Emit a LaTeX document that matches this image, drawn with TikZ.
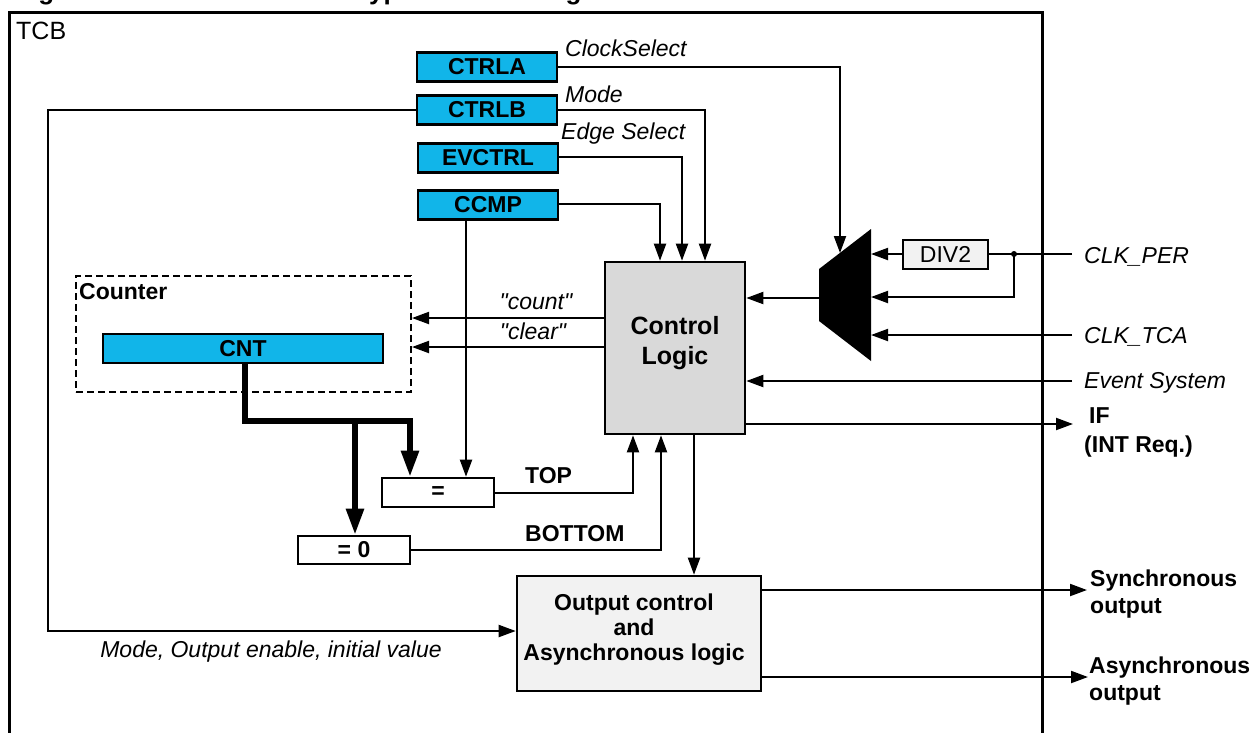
\documentclass[tikz,border=0pt]{standalone}
\usepackage{fontspec}
\setmainfont{Liberation Sans}
\usetikzlibrary{arrows.meta}
\definecolor{regcyan}{RGB}{17,181,233}
\definecolor{ctrlgray}{RGB}{217,217,217}
\definecolor{lightbox}{RGB}{242,242,242}
\newcommand\strq{\XeTeXglyph\XeTeXcharglyph"22\relax}
\begin{document}
\begin{tikzpicture}[x=1pt,y=-1pt,
  reg/.style={draw, line width=2.6pt, fill=regcyan, font=\fontsize{23}{27}\selectfont\bfseries,
              minimum width=140pt, minimum height=29pt, inner sep=0pt},
  cmpbox/.style={draw, line width=2.6pt, fill=white, font=\fontsize{23}{27}\selectfont\bfseries,
              minimum width=112pt, minimum height=29pt, inner sep=0pt},
  lbl/.style={font=\fontsize{23}{27}\selectfont, inner sep=0pt},
  ilbl/.style={font=\fontsize{23}{27}\selectfont\itshape, inner sep=0pt},
  blbl/.style={font=\fontsize{23}{27}\selectfont\bfseries, inner sep=0pt},
  wire/.style={line width=2pt},
  arr/.style={line width=2pt, -{Triangle[length=17pt,width=12pt]}},
  thk/.style={line width=5.5pt, -{Triangle[length=26pt,width=17pt]}}
]
\useasboundingbox (0,0) rectangle (1257,732);
\clip (0,0) rectangle (1257,732);
\fill[white] (0,0) rectangle (1257,732);

% title (cut off at the top)
\node[anchor=base west, font=\fontsize{26}{30}\selectfont\bfseries, inner sep=0pt] (title) at (15,-1)
  {Figure 21-1. Timer/Counter Type B Block Diagram};

% TCB frame
\draw[line width=3pt] (9,12) rectangle (1042,770);
\node[lbl, anchor=west, font=\fontsize{25}{29}\selectfont] (tcb) at (16,31) {TCB};

% registers
\node[reg] (ctrla) at (487,67) {CTRLA};
\node[reg] (ctrlb) at (487,110) {CTRLB};
\node[reg] (evctrl) at (488,158) {EVCTRL};
\node[reg] (ccmp) at (488,205) {CCMP};

\node[ilbl, anchor=west] (lcs) at (565,48) {ClockSelect};
\node[ilbl, anchor=west] (lmode) at (565,94) {Mode};
\node[ilbl, anchor=west] (ledge) at (561,134) {Edge Select};

% counter
\node[draw, line width=2pt, dash pattern=on 7pt off 4pt, minimum width=335pt, minimum height=116pt,
      inner sep=0pt] (counter) at (243.5,334) {};
\node[blbl, anchor=west] (counterlbl) at (79,292) {Counter};
\node[reg, minimum width=280pt] (cnt) at (243,348.5) {CNT};

% comparators
\node[cmpbox] (eqtop) at (438,492.5) {=};
\node[cmpbox, minimum height=28pt] (eqzero) at (354,550) {= 0};

% control logic
\node[draw, line width=2.6pt, fill=ctrlgray, minimum width=140pt, minimum height=172pt, inner sep=0pt] (ctrl) at (675,348) {};
\node[align=center, inner sep=0pt, font=\fontsize{25}{30}\selectfont\bfseries] (ctrltext) at (675,343) {Control\\Logic};

% output block
\node[draw, line width=2.6pt, fill=lightbox, minimum width=244pt, minimum height=115pt, inner sep=0pt] (outbox) at (639,633.5) {};
\node[align=center, inner sep=0pt, font=\fontsize{23}{25}\selectfont\bfseries] (outtext) at (634,630)
      {Output control\\and\\Asynchronous logic};

% mux and divider
\fill (819,269) -- (871,229) -- (871,361) -- (819,321) -- cycle;
\coordinate (muxsel) at (840,253);
\coordinate (muxout) at (819,298);
\coordinate (muxin1) at (871,254);
\coordinate (muxin2) at (871,297);
\coordinate (muxin3) at (871,335);
\node[draw, line width=2.4pt, fill=lightbox, minimum width=85pt, minimum height=29pt, inner sep=0pt,
      font=\fontsize{23}{27}\selectfont] (div2) at (945.5,254.5) {DIV2};

% register connections
\draw[arr] (ctrla.east) -| (muxsel);
\draw[arr] (ctrlb.east) -| ([xshift=30pt]ctrl.north);
\draw[arr] (evctrl.east |- 0,157) -| ([xshift=7pt]ctrl.north);
\draw[arr] (ccmp.east |- 0,204) -| ([xshift=-15pt]ctrl.north);
\draw[arr] ([xshift=-22pt]ccmp.south) -- ([xshift=28pt]eqtop.north);

% count / clear
\draw[arr] (ctrl.west |- 0,318) -- (counter.east |- 0,318);
\draw[arr] (ctrl.west |- 0,347) -- (counter.east |- 0,347);
\node[ilbl] (lcount) at (536,302) {\strq count\strq};
\node[ilbl] (lclear) at (533,331) {\strq clear\strq};

% counter value to comparators
\coordinate (cntturn) at (410,421);
\coordinate (br) at (355,421);
\draw[thk] ([xshift=2pt]cnt.south) |- (cntturn) -- (eqtop.north -| cntturn);
\draw[thk] (br) -- (eqzero.north -| br);

% TOP / BOTTOM
\draw[arr] (eqtop.east) -| (ctrl.south -| 633,0);
\draw[arr] (eqzero.east) -| (ctrl.south -| 661,0);
\node[blbl, anchor=west] (ltop) at (525,476) {TOP};
\node[blbl, anchor=west] (lbottom) at (525,534) {BOTTOM};

% control logic to output
\draw[arr] (ctrl.south -| 694,0) -- (outbox.north -| 694,0);

% interrupt flag
\coordinate (ifend) at (1073,424);
\draw[arr] (ctrl.east |- ifend) -- (ifend);
\node[blbl, anchor=north west, align=left, font=\fontsize{23}{29}\selectfont\bfseries] (lif) at (1084,407)
  {\hspace*{5pt}IF\\(INT Req.)};

% clocks
\draw[arr] (muxout) -- (ctrl.east |- muxout);
\draw[arr] (div2.west |- muxin1) -- (muxin1);
\coordinate (clkper) at (1072,254);
\coordinate (jn) at (1014,254);
\draw[wire] (clkper) -- (div2.east |- clkper);
\fill (jn) circle (3pt);
\draw[arr] (jn) |- (muxin2);
\coordinate (clktca) at (1072,335);
\draw[arr] (clktca) -- (muxin3);
\node[ilbl, anchor=west] (lclkper) at (1084,257) {CLK\_PER};
\node[ilbl, anchor=west] (lclktca) at (1084,337) {CLK\_TCA};

% event system
\coordinate (evs) at (1072,381);
\draw[arr] (evs) -- (ctrl.east |- evs);
\node[ilbl, anchor=west] (levs) at (1084,383) {Event System};

% outputs
\coordinate (syncend) at (1087,590);
\coordinate (asyncend) at (1088,677);
\draw[arr] (outbox.east |- syncend) -- (syncend);
\draw[arr] (outbox.east |- asyncend) -- (asyncend);
\node[blbl, anchor=north west, align=left, font=\fontsize{23}{27}\selectfont\bfseries] (lsync) at (1090,570)
  {Synchronous\\output};
\node[blbl, anchor=north west, align=left, font=\fontsize{23}{27}\selectfont\bfseries] (lasync) at (1089,657)
  {Asynchronous\\output};

% CTRLB to output block
\coordinate (lc) at (48,110);
\draw[arr] (ctrlb.west) -- (lc) |- (outbox.west |- 0,631);
\node[ilbl] (lmodeout) at (271,652) {Mode, Output enable, initial value};
\end{tikzpicture}
\end{document}
